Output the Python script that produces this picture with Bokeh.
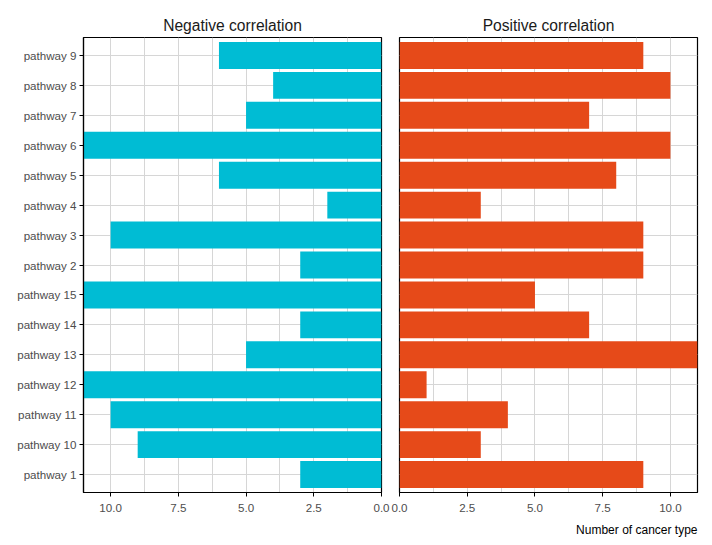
from bokeh.plotting import figure
from bokeh.layouts import row
from bokeh.models import Range1d, FactorRange, FixedTicker, NumeralTickFormatter, Title, ColumnDataSource
from bokeh.embed import file_html
from bokeh.resources import INLINE

pathways = ["pathway 1", "pathway 10", "pathway 11", "pathway 12", "pathway 13",
            "pathway 14", "pathway 15", "pathway 2", "pathway 3", "pathway 4",
            "pathway 5", "pathway 6", "pathway 7", "pathway 8", "pathway 9"]
negative = [3, 9, 10, 11, 5, 3, 11, 3, 10, 2, 6, 11, 5, 4, 6]
positive = [9, 3, 4, 1, 11, 7, 5, 9, 9, 3, 8, 10, 7, 10, 9]
x_ticks = [0, 2.5, 5, 7.5, 10]
x_minor = [1.25, 3.75, 6.25, 8.75]
x_max = 11

FONT = "Liberation Sans"
GRID = "#d6d6d6"


def make_panel(title, values, color, reverse, show_y, left, right):
    xr = Range1d(x_max, 0) if reverse else Range1d(0, x_max)
    yr = FactorRange(factors=pathways, range_padding=0.1, range_padding_units="absolute")
    p = figure(x_range=xr, y_range=yr, frame_width=298, frame_height=455,
               min_border_left=left, min_border_right=right,
               min_border_top=37, min_border_bottom=53,
               output_backend="svg", toolbar_location=None)
    src = ColumnDataSource(dict(y=pathways, v=values))
    p.hbar(y="y", left=0, right="v", height=0.9, source=src, fill_color=color, line_color=None)

    p.title.text = title
    p.title.align = "center"
    p.title.text_font = FONT
    p.title.text_font_size = "15.6px"
    p.title.text_font_style = "normal"
    p.title.text_color = "#1a1a1a"
    p.title.standoff = 8

    p.outline_line_color = "black"
    p.outline_line_width = 1.2
    p.outline_line_alpha = 1
    p.background_fill_color = "white"
    p.border_fill_color = "white"

    p.xaxis.ticker = FixedTicker(ticks=x_ticks, minor_ticks=x_minor)
    p.xaxis.formatter = NumeralTickFormatter(format="0.0")
    for ax in p.axis:
        ax.axis_line_color = "black"
        ax.axis_line_width = 1.2
        ax.major_tick_line_color = "black"
        ax.major_tick_out = 4
        ax.major_tick_in = 0
        ax.minor_tick_line_color = None
        ax.major_label_text_font = FONT
        ax.major_label_text_font_size = "11.6px"
        ax.major_label_text_color = "#4d4d4d"
        ax.major_label_standoff = 7
    p.yaxis.major_label_standoff = 3
    if not show_y:
        p.yaxis.visible = False

    p.xgrid.grid_line_color = GRID
    p.xgrid.minor_grid_line_color = GRID
    p.ygrid.grid_line_color = GRID
    return p


p1 = make_panel("Negative correlation", negative, "#00BCD4", True, True, 83, 9)
p2 = make_panel("Positive correlation", positive, "#E64A19", False, False, 9, 7)

t = Title(text="Number of cancer type", align="right", text_font=FONT,
          text_font_size="12px", text_font_style="normal", text_color="black",
          standoff=13)
p2.add_layout(t, "below")

layout = row(p1, p2)
open("out.html", "w").write(file_html(layout, INLINE))
